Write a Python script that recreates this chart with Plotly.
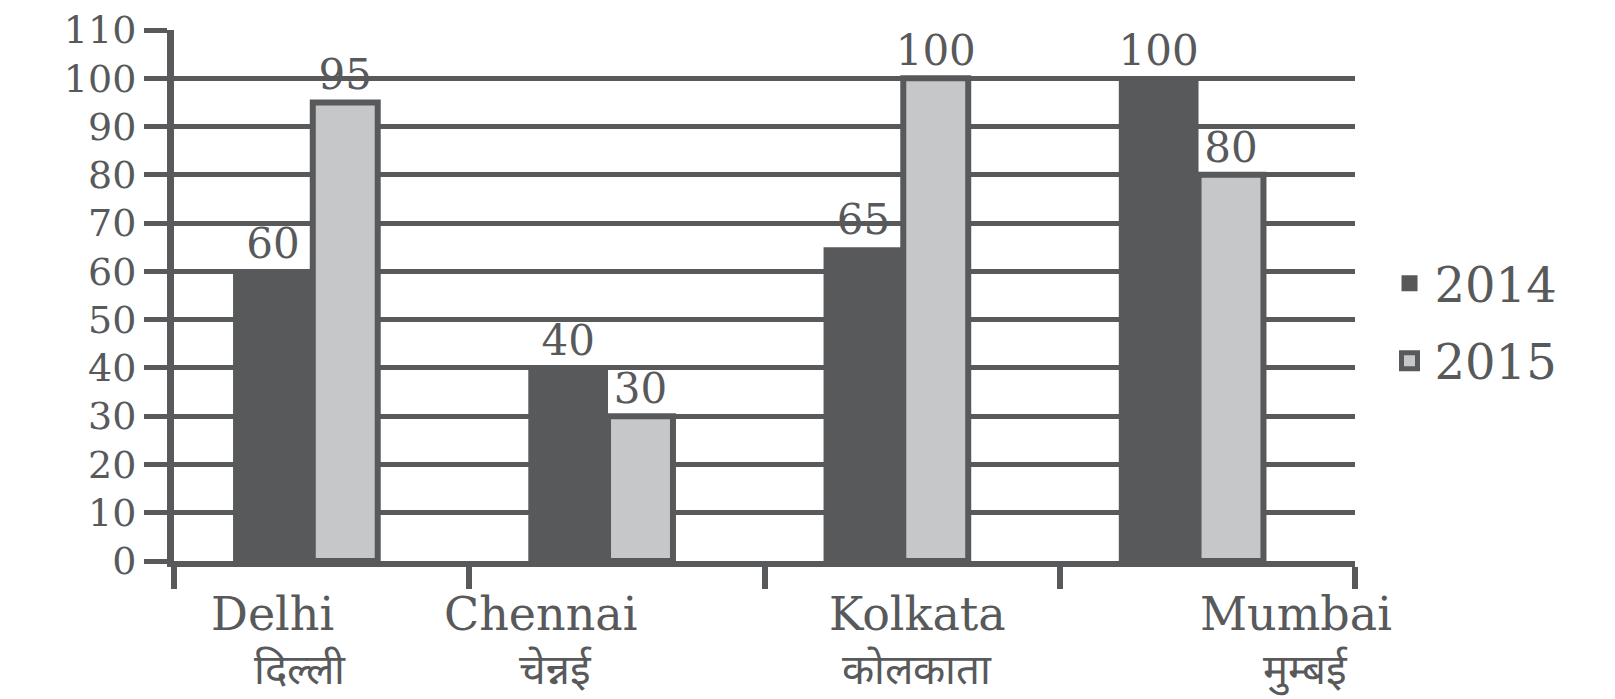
import plotly.graph_objects as go

categories = ["Delhi", "Chennai", "Kolkata", "Mumbai"]
categories_hi = ["दिल्ली", "चेन्नई", "कोलकाता", "मुम्बई"]
series_names = ["2014", "2015"]
values_2014 = [60, 40, 65, 100]
values_2015 = [95, 30, 100, 80]
y_ticks = list(range(0, 111, 10))

DARK = "#58595b"
LIGHT = "#c6c7c9"
FONT = "DejaVu Serif, Noto Serif, serif"

fig = go.Figure()
fig.add_trace(go.Bar(
    x=categories, y=values_2014, name=series_names[0],
    marker=dict(color=DARK, line=dict(width=0)),
    width=0.27, offset=-0.30,
    text=values_2014, textposition="outside", constraintext="none",
    textfont=dict(family=FONT, size=42, color=DARK),
    cliponaxis=False, showlegend=False,
))
fig.add_trace(go.Bar(
    x=categories, y=values_2015, name=series_names[1],
    marker=dict(color=LIGHT, line=dict(width=6, color=DARK)),
    width=0.22, offset=-0.03,
    text=values_2015, textposition="outside", constraintext="none",
    textfont=dict(family=FONT, size=42, color=DARK),
    cliponaxis=False, showlegend=False,
))

# legend entries with larger swatches
fig.add_trace(go.Scatter(
    x=[None], y=[None], mode="markers", name=series_names[0], legendgroup="a",
    marker=dict(symbol="square", size=34, color=DARK, line=dict(width=0)),
))
fig.add_trace(go.Scatter(
    x=[None], y=[None], mode="markers", name=series_names[1], legendgroup="b",
    marker=dict(symbol="square", size=30, color=LIGHT, line=dict(width=5, color=DARK)),
))

label_shift = [-49, -76, 5, 89]
hindi_shift = [-22, -61, 5, 98]
for i, (en, hi) in enumerate(zip(categories, categories_hi)):
    fig.add_annotation(
        x=en, y=0, xref="x", yref="y", yanchor="top",
        xshift=label_shift[i], yshift=-24,
        text=en, showarrow=False,
        font=dict(family=FONT, size=46, color=DARK),
    )
    fig.add_annotation(
        x=en, y=0, xref="x", yref="y", yanchor="top",
        xshift=hindi_shift[i], yshift=-82,
        text=hi, showarrow=False,
        font=dict(family=FONT, size=42, color=DARK),
    )

fig.update_layout(
    width=1615, height=699,
    margin=dict(l=166, r=268, t=22, b=146),
    paper_bgcolor="white", plot_bgcolor="white",
    barmode="overlay",
    showlegend=True,
    legend=dict(
        x=1.025, y=0.45, xanchor="left", yanchor="middle",
        font=dict(family=FONT, size=48, color=DARK),
        bgcolor="rgba(0,0,0,0)", itemwidth=40, tracegroupgap=12,
    ),
)
fig.update_xaxes(
    type="category", range=[-0.5, 3.5], automargin=False,
    tickson="boundaries", ticks="outside", ticklen=22, tickwidth=6,
    tickcolor=DARK, showticklabels=False,
    showline=True, linewidth=6, linecolor=DARK,
    showgrid=False, zeroline=False,
)
fig.update_yaxes(
    range=[0, 110], tickvals=y_ticks, automargin=False,
    ticks="outside", ticklen=23, tickwidth=5, tickcolor=DARK,
    tickfont=dict(family=FONT, size=38, color=DARK),
    showgrid=True, gridcolor=DARK, gridwidth=5,
    showline=True, linewidth=7, linecolor=DARK,
    zeroline=False,
)

fig.write_html("out.html")
